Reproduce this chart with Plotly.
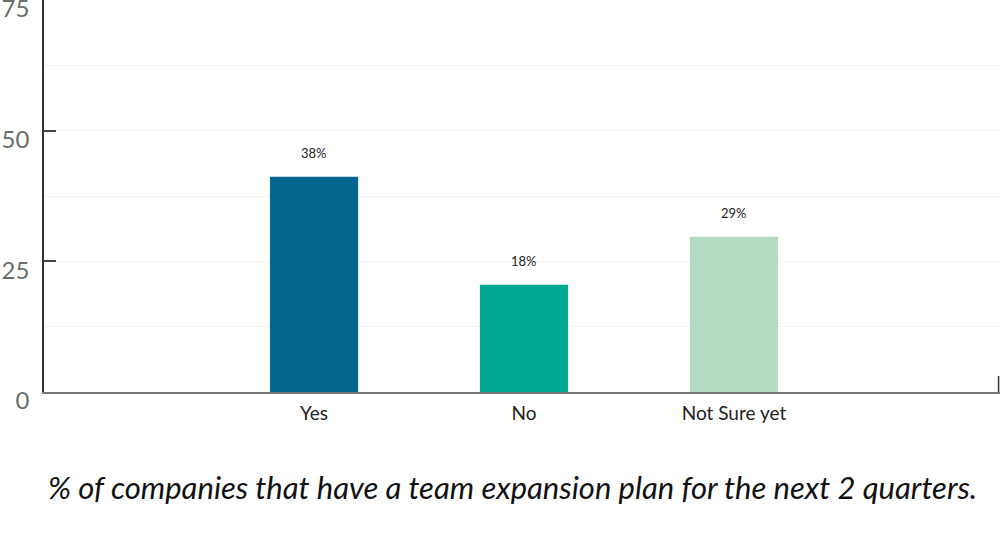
import plotly.graph_objects as go

# ---------data---------
categories = ["Yes", "No", "Not Sure yet"]
bar_heights = [41.2, 20.5, 29.7]
bar_labels = ["38%", "18%", "29%"]
bar_colors = ["#05668d", "#00a896", "#b3dbc1"]
y_ticks = [0, 25, 50, 75]

caption = "% of companies that have a team expansion plan for the next 2 quarters."

fig = go.Figure()
fig.add_trace(go.Bar(x=categories, y=bar_heights,
                     marker_color=bar_colors,
                     marker_line_width=0,
                     width=0.42,
                     hoverinfo="skip"))

# value labels sit well above each bar
for cat, h, lab in zip(categories, bar_heights, bar_labels):
    fig.add_annotation(x=cat, y=h, text=lab, showarrow=False,
                       yshift=24, font=dict(family="Lato", size=13, color="#222222"))

fig.add_annotation(xref="paper", yref="paper", x=0.49, y=-0.296,
                   text="<i>" + caption + "</i>", showarrow=False,
                   font=dict(family="Lato", size=31, color="#111111"))

# small end tick at right of x axis
fig.add_shape(type="line", xref="paper", yref="paper",
              x0=0.9985, x1=0.9985, y0=0, y1=16 / 392,
              line=dict(color="#333333", width=1.5))

fig.update_xaxes(range=[-1.286, 3.267], showline=True, linecolor="#777777", linewidth=2,
                 ticks="", tickfont=dict(family="Lato", size=19, color="#222222"),
                 ticklabelstandoff=3,
                 showgrid=False, zeroline=False, fixedrange=True, automargin=False)

fig.update_yaxes(range=[0, 75], tickvals=y_ticks, showline=True, linecolor="#333333", linewidth=1.5,
                 ticks="inside", ticklen=12, tickcolor="#444444", tickwidth=1.5,
                 tickfont=dict(family="Lato", size=24, color="#66706f"),
                 ticklabelstandoff=8, ticklabelshift=9, ticklabeloverflow="allow",
                 showgrid=True, gridcolor="#f3f3f3", gridwidth=1,
                 minor=dict(dtick=12.5, tick0=12.5, showgrid=True, gridcolor="#f3f3f3", ticks=""),
                 zeroline=False, fixedrange=True, automargin=False)

fig.update_layout(width=1000, height=558,
                  margin=dict(l=44, r=0, t=0, b=166),
                  plot_bgcolor="white", paper_bgcolor="white",
                  showlegend=False, bargap=0.58)

# page body has a default 8px margin; drop it so the figure sits at the window corner
fig.write_html("out.html", config={"displayModeBar": False},
               post_script="document.body.style.margin='0';")
